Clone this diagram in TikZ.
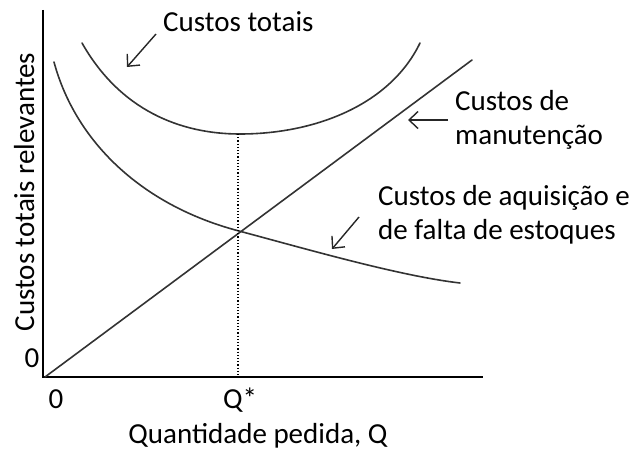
\documentclass[tikz,border=0pt]{standalone}
\usepackage{fontspec}
\setmainfont{Carlito}
\usetikzlibrary{arrows.meta}
\begin{document}
\begin{tikzpicture}[x=1pt,y=-1pt,
  lbl/.style={font=\fontsize{29}{35}\selectfont, inner sep=0pt, text=black, align=left},
  curve/.style={line width=1.6pt, draw=black!80, line cap=round},
  axis/.style={line width=2pt, draw=black},
  pointer/.style={line width=1.4pt, draw=black!85, -{Straight Barb[length=9pt,width=17pt,line width=1.4pt]}}]
\useasboundingbox (0,0) rectangle (636,452);
% axes
\coordinate (O) at (43,377);
\coordinate (ytop) at (43,10);
\coordinate (xend) at (483,377);
\draw[axis] (ytop) -- (O) -- (xend);
% holding cost line
\coordinate (lin1) at (45,377);
\coordinate (lin2) at (472,60);
\draw[curve] (lin1) -- (lin2);
% total cost curve
\coordinate (tc1) at (82,43);
\coordinate (tcm) at (240,134);
\coordinate (tc2) at (420,43);
\draw[curve] (tc1) .. controls (120,110) and (180,134) .. (tcm)
                   .. controls (315,134) and (390,105) .. (tc2);
% acquisition / shortage curve
\coordinate (ac1) at (54,62);
\coordinate (acm) at (239,231);
\coordinate (ac2) at (460,283);
\draw[curve] (ac1) .. controls (75,140) and (140,205) .. (acm)
                   .. controls (310,250) and (400,276) .. (ac2);
% dotted line at Q*
\coordinate (qtop) at (238,134);
\coordinate (qbot) at (238,377);
\draw[line width=1.2pt, dotted] (qtop) -- (qbot);
% labels
\node[lbl, anchor=base west] (tot) at (163,32) {Custos totais};
\node[lbl, anchor=base west] (man1) at (455,110) {Custos de};
\node[lbl, anchor=base west] (man2) at (455,144) {manutenção};
\node[lbl, anchor=base west] (aq1) at (378,205) {Custos de aquisição e};
\node[lbl, anchor=base west] (aq2) at (378,239) {de falta de estoques};
\node[lbl, anchor=base, rotate=90] (ylab) at (34,192) {Custos totais relevantes};
\node[lbl, anchor=base] (y0) at (32,367) {0};
\node[lbl, anchor=base] (x0) at (56,408) {0};
\node[lbl, anchor=base] (qs) at (240,408) {Q*};
\node[lbl, anchor=base] (xlab) at (258,443) {Quantidade pedida, Q};
% pointers
\coordinate (a1s) at (156,34); \coordinate (a1e) at (127,67);
\coordinate (a2s) at (448,120); \coordinate (a2e) at (408,120);
\coordinate (a3s) at (359,217); \coordinate (a3e) at (332,249);
\draw[pointer] (a1s) -- (a1e);
\draw[pointer] (a2s) -- (a2e);
\draw[pointer] (a3s) -- (a3e);
\end{tikzpicture}
\end{document}
